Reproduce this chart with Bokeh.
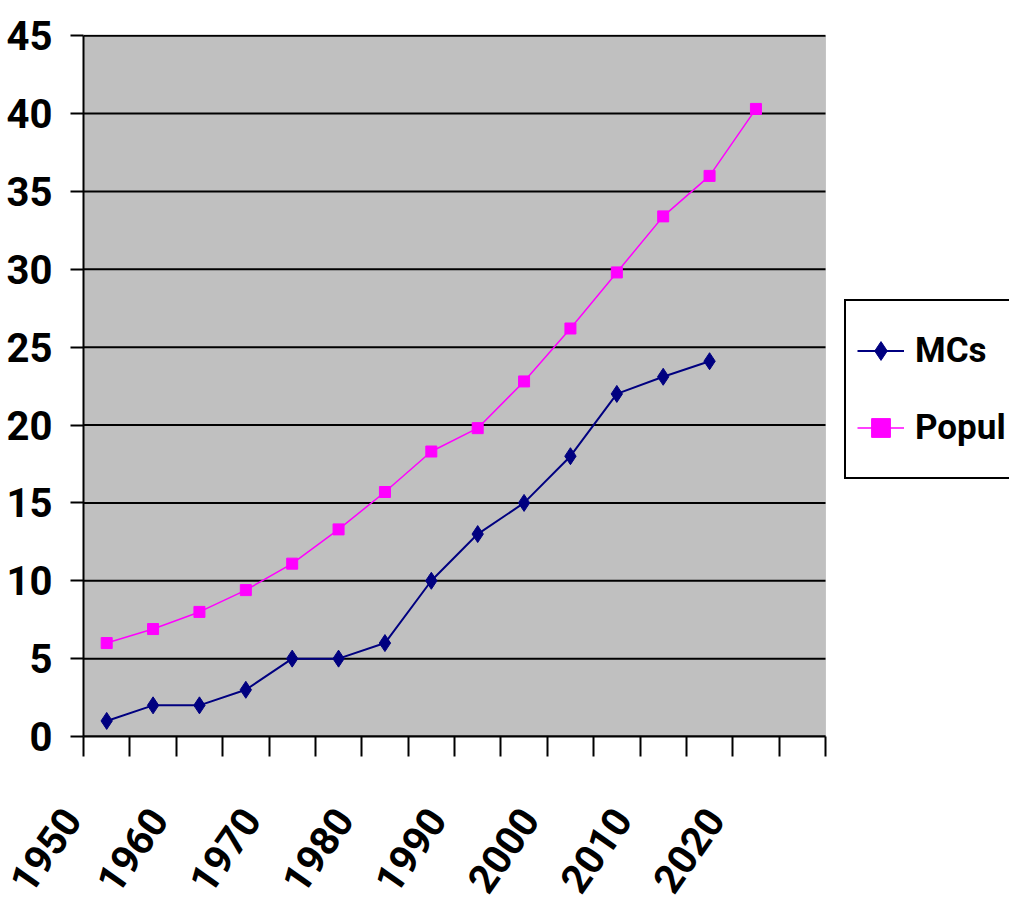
from bokeh.plotting import figure
from bokeh.models import FixedTicker, Legend, LegendItem, Range1d, BoxAnnotation
from bokeh.embed import file_html
from bokeh.resources import INLINE

years = [1950, 1955, 1960, 1965, 1970, 1975, 1980, 1985, 1990, 1995,
         2000, 2005, 2010, 2015, 2020, 2025]
mcs = [1, 2, 2, 3, 5, 5, 6, 10, 13, 15, 18, 22, 23.1, 24.1]
popul = [6.0, 6.9, 8.0, 9.4, 11.1, 13.3, 15.7, 18.3, 19.8, 22.8, 26.2,
         29.8, 33.4, 36.0, 40.3]
y_ticks = [0, 5, 10, 15, 20, 25, 30, 35, 40, 45]
x_labels = {0: "1950", 2: "1960", 4: "1970", 6: "1980", 8: "1990",
            10: "2000", 12: "2010", 14: "2020"}

FONT = "Roboto"

# layout geometry (pixels)
W, H = 1009, 918
LEFT, TOP, BOTTOM = 83, 35, 181
PLOT_RIGHT = 825  # right edge of the grey plot area
ncat = len(years)
x_end = ncat * (W - LEFT) / (PLOT_RIGHT - LEFT)
ymax = max(y_ticks)
PAD = "\u00a0" * 3  # nudges the rotated labels down-left of their tick

p = figure(width=W, height=H, output_backend="svg", toolbar_location=None,
           x_range=Range1d(0, x_end), y_range=Range1d(0, ymax + 0.08),
           min_border_left=LEFT, min_border_right=0, min_border_top=TOP - 1,
           min_border_bottom=BOTTOM)
p.background_fill_color = "white"
p.border_fill_color = "white"
p.outline_line_color = None
p.xgrid.visible = False
p.ygrid.visible = False

# grey plot area
p.add_layout(BoxAnnotation(left=0, right=ncat, bottom=0, top=ymax,
                           fill_color="#C0C0C0", fill_alpha=1,
                           line_color="#8a8a8a", line_width=1, level="underlay"))

# horizontal grid lines over the plot area only
p.segment(x0=[0] * len(y_ticks), x1=[ncat] * len(y_ticks), y0=y_ticks, y1=y_ticks,
          line_color="black", line_width=2)

# x axis
xa = p.xaxis[0]
xa.bounds = (0, ncat)
xa.ticker = FixedTicker(ticks=list(range(ncat + 1)))
overrides = {i: "" for i in range(ncat + 1)}
overrides.update({k: v + PAD for k, v in x_labels.items()})
xa.major_label_overrides = overrides
xa.major_label_orientation = 0.96
xa.major_tick_in = 0
xa.major_tick_out = 20
xa.major_tick_line_width = 2
xa.minor_tick_line_color = None
xa.axis_line_width = 2
xa.axis_line_color = "black"
xa.major_tick_line_color = "black"
xa.major_label_standoff = 32
xa.major_label_text_font = FONT
xa.major_label_text_font_style = "bold"
xa.major_label_text_font_size = "40px"
xa.major_label_text_color = "black"

# y axis
ya = p.yaxis[0]
ya.bounds = (0, ymax)
ya.ticker = FixedTicker(ticks=y_ticks)
ya.major_tick_in = 0
ya.major_tick_out = 13
ya.major_tick_line_width = 2
ya.minor_tick_line_color = None
ya.axis_line_width = 2
ya.axis_line_color = "black"
ya.major_tick_line_color = "black"
ya.major_label_standoff = 18
ya.major_label_text_font = FONT
ya.major_label_text_font_style = "bold"
ya.major_label_text_font_size = "40px"
ya.major_label_text_color = "black"

x_mcs = [i + 0.5 for i in range(len(mcs))]
x_pop = [i + 0.5 for i in range(len(popul))]

l1 = p.line(x_mcs, mcs, line_color="#000080", line_width=2)
m1 = p.scatter(x_mcs, mcs, marker="diamond", size=17, fill_color="#000080",
               line_color="#000080")
l2 = p.line(x_pop, popul, line_color="#FF00FF", line_width=1.5)
m2 = p.scatter(x_pop, popul, marker="square", size=11, fill_color="#FF00FF",
               line_color="#FF00FF")

legend = Legend(items=[LegendItem(label="MCs", renderers=[l1, m1]),
                       LegendItem(label="Popul", renderers=[l2, m2])],
                location=(761, 257))
legend.label_text_font = FONT
legend.label_text_font_style = "bold"
legend.label_text_font_size = "35px"
legend.label_text_color = "black"
legend.glyph_width = 47
legend.glyph_height = 77
legend.label_height = 77
legend.label_standoff = 11
legend.spacing = 0
legend.padding = 11
legend.margin = 0
legend.border_line_color = "black"
legend.border_line_alpha = 1
legend.border_line_width = 2
legend.background_fill_color = "white"
legend.background_fill_alpha = 1
p.add_layout(legend, "center")

open("out.html", "w").write(file_html(p, INLINE))
